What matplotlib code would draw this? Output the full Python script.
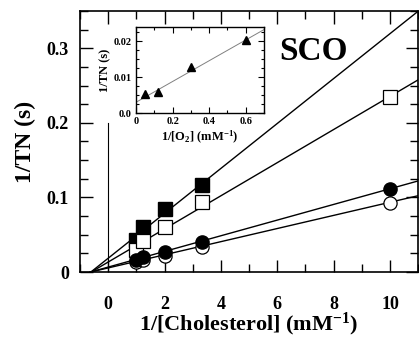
import matplotlib
matplotlib.use("Agg")
import matplotlib.pyplot as plt
import numpy as np
from matplotlib.ticker import MultipleLocator

plt.rcParams['font.family'] = ['Liberation Serif', 'DejaVu Serif']
plt.rcParams['font.weight'] = 'bold'
plt.rcParams['mathtext.fontset'] = 'custom'
plt.rcParams['mathtext.rm'] = 'Liberation Serif:bold'
plt.rcParams['mathtext.default'] = 'rm'

# main panel: 1/TN vs 1/[cholesterol]
chol = [1.0, 1.25, 2.0, 3.33, 10.0]
sq_filled = [0.043, 0.061, 0.085, 0.116]
sq_open = [0.030, 0.041, 0.061, 0.094, 0.235]
ci_filled = [0.016, 0.020, 0.027, 0.040, 0.111]
ci_open = [0.013, 0.016, 0.022, 0.034, 0.093]

# fitted lines (slope, intercept)
fit_slopes = [0.0301, 0.0222, 0.0105, 0.0088]
fit_inters = [0.0185, 0.0134, 0.0066, 0.0055]

# inset: 1/TN vs 1/[O2]
o2 = [0.05, 0.12, 0.30, 0.60]
tn_o2 = [0.0053, 0.0058, 0.0128, 0.0203]
o2_fit = (0.0290, 0.0030)

fig = plt.figure(figsize=(4.19, 3.41), dpi=100)
ax = fig.add_axes([0.191, 0.2023, 0.807, 0.7657])

xl = np.array([-0.65, 11.2])
for s, b in zip(fit_slopes, fit_inters):
    ax.plot(xl, s * xl + b, color='black', lw=1.0, zorder=2)

ax.plot([0, 0], [0, 0.2], color='black', lw=0.8, zorder=1)

ms = 9.5
ax.plot(chol[:4], sq_filled, 's', ms=ms, mfc='black', mec='black', zorder=3)
ax.plot(chol, sq_open, 's', ms=ms, mfc='white', mec='black', mew=0.9, zorder=3)
ax.plot(chol, ci_open, 'o', ms=ms, mfc='white', mec='black', mew=0.9, zorder=3)
ax.plot(chol, ci_filled, 'o', ms=ms, mfc='black', mec='black', zorder=4)

ax.set_xlim(-1, 11)
ax.set_ylim(0, 0.35)
ax.xaxis.set_minor_locator(MultipleLocator(1))
ax.yaxis.set_minor_locator(MultipleLocator(0.025))
ax.set_xticks([0, 2, 4, 6, 8, 10])
ax.set_xticklabels(['0', '2', '4', '6', '8', '10'])
ax.set_yticks([0, 0.1, 0.2, 0.3])
ax.set_yticklabels(['0', '0.1', '0.2', '0.3'])
ax.tick_params(which='both', direction='in', top=True, right=True,
               labelsize=13, width=1.0)
ax.tick_params(axis='x', pad=17)
ax.tick_params(axis='y', pad=8)
ax.tick_params(which='major', length=9)
ax.tick_params(which='minor', length=6)
for sp in ax.spines.values():
    sp.set_linewidth(1.2)

ax.set_xlabel('1/[Cholesterol] (mM$^{-1}$)', fontsize=16, fontweight='bold', labelpad=-1)
ax.set_ylabel('1/TN (s)', fontsize=17, fontweight='bold', labelpad=8)
ax.text(7.3, 0.295, 'SCO', fontsize=24, fontweight='bold', ha='center', va='center')

# inset
ins = fig.add_axes([0.3246, 0.6686, 0.3055, 0.252])
xi = np.array([0.0, 0.7])
ins.plot(xi, o2_fit[0] * xi + o2_fit[1], color='gray', lw=0.7)
ins.plot(o2, tn_o2, '^', ms=5.5, color='black')
ins.set_xlim(0, 0.7)
ins.set_ylim(0, 0.024)
ins.set_xticks([0, 0.2, 0.4, 0.6])
ins.set_xticklabels(['0', '0.2', '0.4', '0.6'])
ins.set_yticks([0, 0.01, 0.02])
ins.set_yticklabels(['0.0', '0.01', '0.02'])
ins.xaxis.set_minor_locator(MultipleLocator(0.1))
ins.yaxis.set_minor_locator(MultipleLocator(0.0025))
ins.tick_params(which='both', direction='in', top=True, right=True,
                labelsize=7.5, width=0.8, pad=3)
ins.tick_params(which='major', length=4)
ins.tick_params(which='minor', length=2.5)
for sp in ins.spines.values():
    sp.set_linewidth(1.0)
ins.set_xlabel('1/[O$_2$] (mM$^{-1}$)', fontsize=9, fontweight='bold', labelpad=2)
ins.set_ylabel('1/TN (s)', fontsize=9, fontweight='bold', labelpad=2)

fig.savefig('out.png', dpi=100)
